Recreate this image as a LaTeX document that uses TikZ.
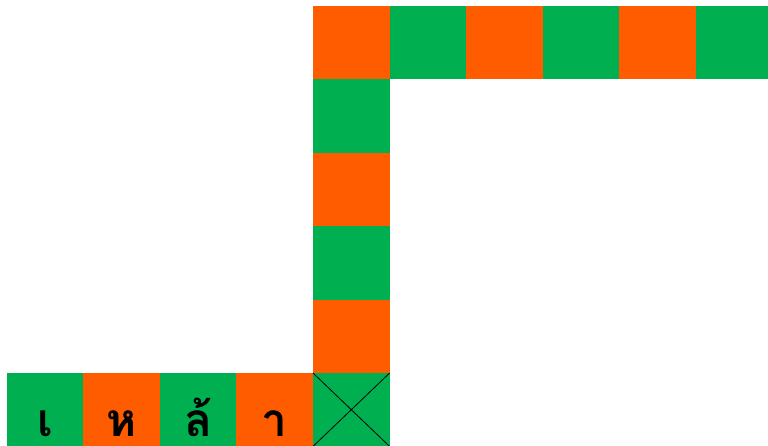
\documentclass[tikz,border=0pt]{standalone}
\usepackage{fontspec}
\newfontfamily\thaifont[Script=Thai]{Loma}
\definecolor{cellgreen}{RGB}{0,176,80}
\definecolor{cellorange}{RGB}{255,92,0}

\begin{document}
\begin{tikzpicture}[x=1pt,y=-1pt,
  cell/.style={minimum width=76.6pt,minimum height=73.4pt,inner sep=0pt,outer sep=0pt,anchor=north west},
  thai/.style={font=\thaifont\bfseries\fontsize{46}{46}\selectfont,anchor=base,inner sep=0pt}]
  \useasboundingbox (0,0) rectangle (768,446);
  % column going up, then the top row
  \foreach \i/\c in {0/cellorange,1/cellgreen,2/cellorange,3/cellgreen,4/cellorange,5/cellgreen}
    \node[cell,fill=\c] (v\i) at (313,6+73.4*\i) {};
  \foreach \i/\c in {1/cellgreen,2/cellorange,3/cellgreen,4/cellorange,5/cellgreen}
    \node[cell,fill=\c] (t\i) at (313+76.6*\i,6) {};
  % bottom row with the word
  \foreach \i/\c in {1/cellgreen,2/cellorange,3/cellgreen,4/cellorange}
    \node[cell,fill=\c] (b\i) at (-70+76.6*\i,373) {};
  \draw[line width=0.8pt] (v5.north west) -- (v5.south east) (v5.north east) -- (v5.south west);
  \node[thai,yshift=10pt] (w1) at (b1.south) {เ};
  \node[thai,yshift=10pt] (w2) at (b2.south) {ห};
  \node[thai,yshift=10pt] (w3) at (b3.south) {ล้};
  \node[thai,yshift=10pt] (w4) at (b4.south) {า};
\end{tikzpicture}
\end{document}
